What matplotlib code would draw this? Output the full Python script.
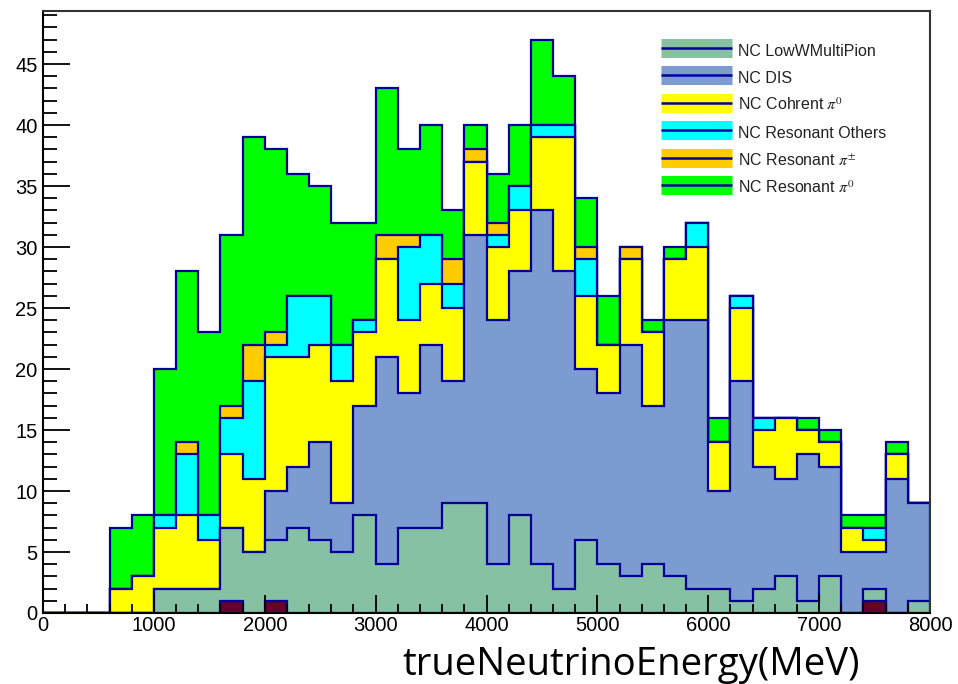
import numpy as np
import matplotlib
matplotlib.use("Agg")
import matplotlib.pyplot as plt
from matplotlib.lines import Line2D
from matplotlib.ticker import MultipleLocator

plt.rcParams['font.family'] = ['Liberation Sans', 'DejaVu Sans']
plt.rcParams['mathtext.fontset'] = 'stix'

# bin edges 0..8000 MeV, 200 MeV wide
edges = np.arange(0, 8001, 200)

# counts per bin, stack order from the bottom
nc_other = [0, 0, 0, 0, 0, 0, 0, 0, 1, 0, 1, 0, 0, 0, 0, 0, 0, 0, 0, 0,
            0, 0, 0, 0, 0, 0, 0, 0, 0, 0, 0, 0, 0, 0, 0, 0, 0, 1, 0, 0]
nc_lowwmultipion = [0, 0, 0, 0, 0, 2, 2, 2, 6, 5, 5, 7, 6, 5, 8, 4, 7, 7, 9, 9,
                    4, 8, 4, 2, 6, 4, 3, 4, 3, 2, 2, 1, 2, 3, 1, 3, 0, 1, 0, 1]
nc_dis = [0, 0, 0, 0, 0, 0, 0, 0, 0, 0, 4, 5, 8, 4, 9, 17, 11, 15, 10, 22,
          20, 20, 29, 26, 14, 14, 19, 13, 21, 22, 8, 18, 10, 8, 12, 9, 5, 3, 11, 8]
nc_coh_pi0 = [0, 0, 0, 2, 3, 5, 6, 4, 6, 6, 11, 9, 8, 10, 6, 8, 6, 5, 6, 6,
              6, 5, 6, 11, 6, 4, 7, 6, 5, 6, 4, 6, 3, 5, 2, 2, 2, 1, 2, 0]
nc_res_others = [0, 0, 0, 0, 0, 1, 5, 2, 3, 8, 1, 5, 4, 3, 1, 0, 6, 4, 2, 0,
                 1, 2, 1, 1, 3, 0, 0, 0, 0, 2, 0, 1, 1, 0, 0, 0, 0, 1, 0, 0]
nc_res_pipm = [0, 0, 0, 0, 0, 0, 1, 0, 1, 3, 1, 0, 0, 0, 0, 2, 1, 0, 2, 1,
               1, 0, 0, 0, 1, 0, 1, 0, 0, 0, 0, 0, 0, 0, 0, 0, 0, 0, 0, 0]
nc_res_pi0 = [0, 0, 0, 5, 5, 12, 14, 15, 14, 17, 15, 10, 9, 10, 8, 12, 7, 9, 4, 2,
              4, 5, 7, 4, 4, 4, 0, 1, 1, 0, 2, 0, 0, 0, 1, 1, 1, 1, 1, 0]

layers = [nc_other, nc_lowwmultipion, nc_dis, nc_coh_pi0,
          nc_res_others, nc_res_pipm, nc_res_pi0]
colors = ['#66002e', '#86c1a4', '#7b9bd1', '#ffff00', '#00ffff', '#ffcc00', '#00ff00']
labels = [None, 'NC LowWMultiPion', 'NC DIS', r'NC Cohrent $\pi^0$',
          'NC Resonant Others', r'NC Resonant $\pi^{\pm}$', r'NC Resonant $\pi^0$']
edge_col = '#000099'

cum = np.cumsum(np.array(layers), axis=0)

fig = plt.figure(figsize=(9.58, 6.84), dpi=100)
ax = fig.add_axes([43 / 958, 1 - 613 / 684, 887 / 958, 602 / 684])

# draw like a THStack: tallest cumulative first, then the ones below on top
for k in range(len(layers) - 1, -1, -1):
    ax.stairs(cum[k], edges, baseline=0, fill=True, facecolor=colors[k],
              edgecolor=edge_col, linewidth=1.6)

ax.set_xlim(0, 8000)
ax.set_ylim(0, 49.35)

ax.xaxis.set_major_locator(MultipleLocator(1000))
ax.xaxis.set_minor_locator(MultipleLocator(200))
ax.yaxis.set_major_locator(MultipleLocator(5))
ax.yaxis.set_minor_locator(MultipleLocator(1))
ax.tick_params(axis='both', which='both', direction='in', top=False, right=False,
               labelsize=14.5, width=1.3, color='black')
ax.tick_params(axis='y', which='major', length=19.5, pad=4)
ax.tick_params(axis='y', which='minor', length=10)
ax.tick_params(axis='x', which='major', length=13, pad=2.5)
ax.tick_params(axis='x', which='minor', length=6.5)
for s in ax.spines.values():
    s.set_linewidth(1.5)
    s.set_color('#333333')
ax.spines['bottom'].set_color('black')
ax.spines['left'].set_color('black')

# legend boxes: a wide band of the fill colour with the outline line through it
handles = []
hlabels = []
for k in range(1, len(layers)):
    band = Line2D([], [], color=colors[k], lw=13.7, solid_capstyle='butt')
    line = Line2D([], [], color=edge_col, lw=1.8, solid_capstyle='butt')
    handles.append((band, line))
    hlabels.append(labels[k])
leg = ax.legend(handles, hlabels, loc='upper left', bbox_to_anchor=(0.697, 0.951),
                frameon=False, fontsize=11.5, handlelength=4.45, handleheight=1.5,
                handletextpad=0.38, labelspacing=0.5, borderpad=0, borderaxespad=0)
for t in leg.get_texts():
    t.set_color('#222222')

fig.text(0.659, 0.0132, 'trueNeutrinoEnergy(MeV)', fontsize=27.6, family='Open Sans',
         ha='center', va='baseline')

fig.savefig('out.png', dpi=100)
